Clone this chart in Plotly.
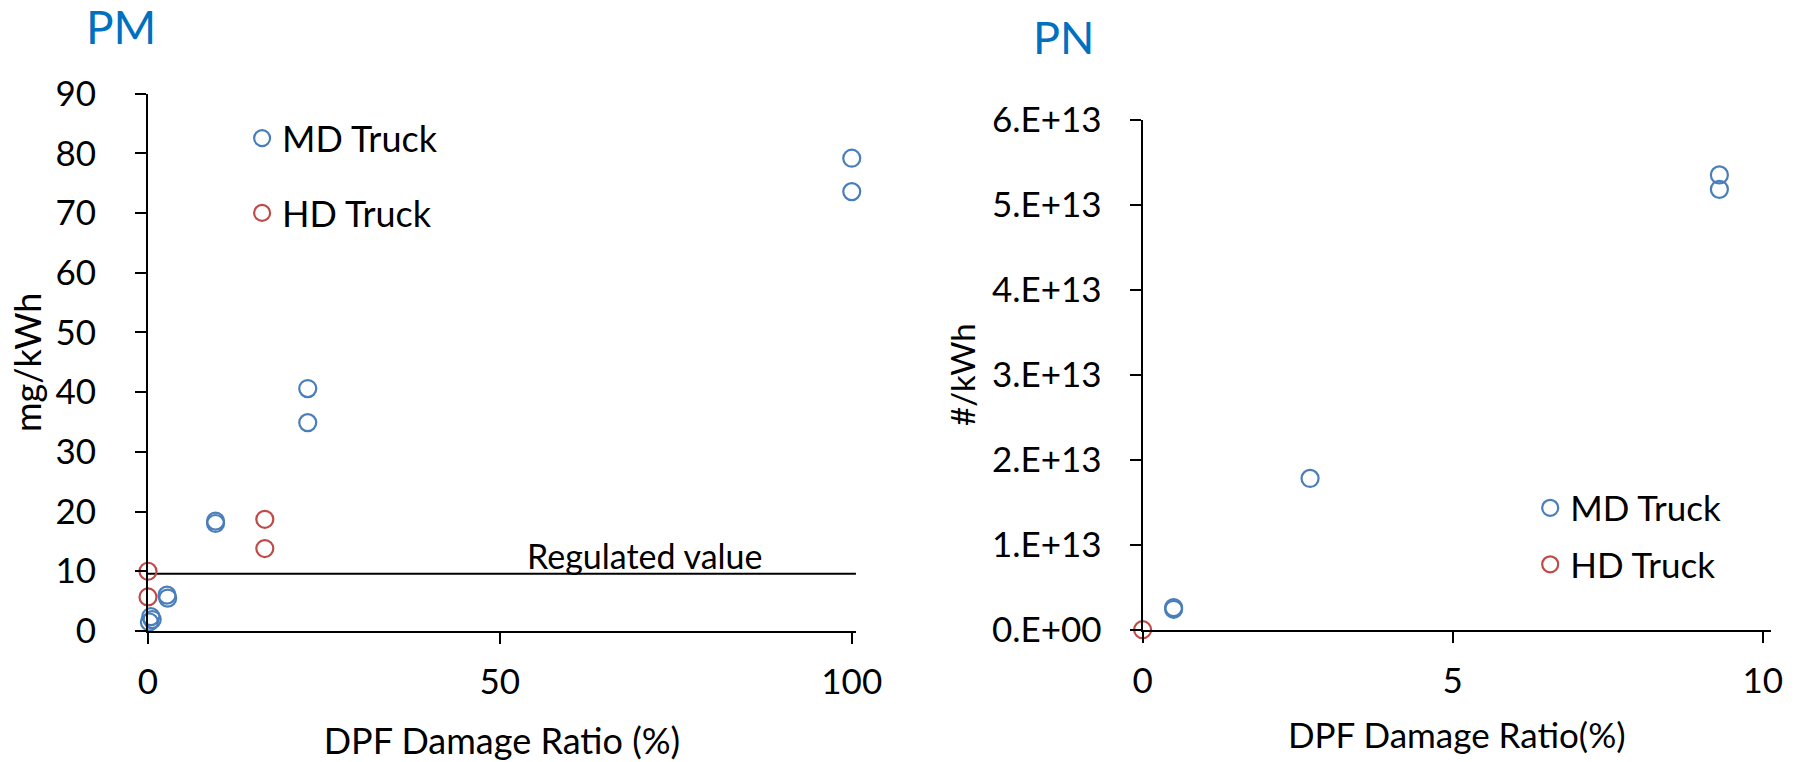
import plotly.graph_objects as go

# PM panel (mg/kWh vs DPF damage ratio %)
pm_md_x = [0.2, 0.4, 0.6, 2.7, 2.8, 9.6, 9.6, 22.7, 22.7, 100, 100]
pm_md_y = [1.5, 2.4, 1.9, 6.0, 5.5, 18.4, 18.0, 40.6, 34.9, 79.2, 73.6]
pm_hd_x = [0, 0, 16.6, 16.6]
pm_hd_y = [10.0, 5.7, 18.7, 13.8]
reg_x = [0, 100.6]
reg_y = [9.6, 9.6]

# PN panel (#/kWh vs DPF damage ratio %)
pn_md_x = [0.5, 0.5, 2.7, 9.3, 9.3]
pn_md_y = [2.4e12, 2.6e12, 1.78e13, 5.35e13, 5.18e13]
pn_hd_x = [0]
pn_hd_y = [0]
pn_ticks = [0, 1e13, 2e13, 3e13, 4e13, 5e13, 6e13]
pn_ticktext = ['0.E+00', '1.E+13', '2.E+13', '3.E+13', '4.E+13', '5.E+13', '6.E+13']

blue = '#4A7EBB'
red = '#BE4B48'
FONT = 'Lato'

def circ(color):
    return dict(symbol='circle-open', size=17, color=color, line=dict(color=color, width=2.2))

fig = go.Figure()
fig.add_trace(go.Scatter(x=reg_x, y=reg_y, mode='lines', line=dict(color='black', width=2),
                         showlegend=False, xaxis='x', yaxis='y', hoverinfo='skip'))
fig.add_trace(go.Scatter(x=pm_md_x, y=pm_md_y, mode='markers', name='MD Truck', marker=circ(blue),
                         xaxis='x', yaxis='y', legend='legend', legendgroup='a', cliponaxis=False))
fig.add_trace(go.Scatter(x=pm_hd_x, y=pm_hd_y, mode='markers', name='HD Truck', marker=circ(red),
                         xaxis='x', yaxis='y', legend='legend', legendgroup='b', cliponaxis=False))
fig.add_trace(go.Scatter(x=pn_md_x, y=pn_md_y, mode='markers', name='MD Truck', marker=circ(blue),
                         xaxis='x2', yaxis='y2', legend='legend2', legendgroup='c', cliponaxis=False))
fig.add_trace(go.Scatter(x=pn_hd_x, y=pn_hd_y, mode='markers', name='HD Truck', marker=circ(red),
                         xaxis='x2', yaxis='y2', legend='legend2', legendgroup='d', cliponaxis=False))

ax = dict(showgrid=False, zeroline=False, showline=True, linecolor='black', linewidth=2,
          ticks='outside', ticklen=11, tickwidth=2, tickcolor='black', automargin=False,
          tickfont=dict(family=FONT, size=35, color='black'))

fig.update_layout(
    width=1796, height=762,
    margin=dict(l=0, r=0, t=0, b=0, autoexpand=False),
    plot_bgcolor='white', paper_bgcolor='white',
    font=dict(family=FONT, color='black'),
    xaxis=dict(ax, domain=[0.0824, 0.4766], range=[0, 100.6], tickvals=[0, 50, 100],
               ticklabelstandoff=8, anchor='y',
               title=dict(text='DPF Damage Ratio (%)', font=dict(family=FONT, size=36), standoff=32)),
    yaxis=dict(ax, domain=[0.172, 0.877], range=[0, 90], dtick=10, anchor='x',
               ticklabelstandoff=32,
               title=dict(text='mg/kWh', font=dict(family=FONT, size=36), standoff=3)),
    xaxis2=dict(ax, domain=[0.6362, 0.986], range=[0, 10.13], tickvals=[0, 5, 10],
                ticklabelstandoff=8, anchor='y2',
                title=dict(text='DPF Damage Ratio(%)', font=dict(family=FONT, size=35), standoff=25)),
    yaxis2=dict(ax, domain=[0.1736, 0.843], range=[0, 6e13], tickvals=pn_ticks, ticktext=pn_ticktext,
                ticklabelstandoff=21, anchor='x2',
                title=dict(text='#/kWh', font=dict(family=FONT, size=33), standoff=6)),
    legend=dict(x=0.1348, y=0.858, xanchor='left', yanchor='top', bgcolor='rgba(0,0,0,0)',
                font=dict(family=FONT, size=36), tracegroupgap=25),
    legend2=dict(x=0.852, y=0.372, xanchor='left', yanchor='top', bgcolor='rgba(0,0,0,0)',
                 font=dict(family=FONT, size=35), tracegroupgap=8),
    annotations=[
        dict(text='PM', x=0.047, y=0.9665, xref='paper', yref='paper', xanchor='left', yanchor='middle',
             height=44, showarrow=False, font=dict(family=FONT, size=46, color='#0070C0')),
        dict(text='PN', x=0.574, y=0.9514, xref='paper', yref='paper', xanchor='left', yanchor='middle',
             height=44, showarrow=False, font=dict(family=FONT, size=45, color='#0070C0')),
        dict(text='Regulated value', x=70.5, y=12.6, xref='x', yref='y', showarrow=False,
             font=dict(family=FONT, size=34, color='black')),
    ],
)

fig.write_html('out.html', config={'displayModeBar': False},
               post_script="document.body.style.margin = '0';")
